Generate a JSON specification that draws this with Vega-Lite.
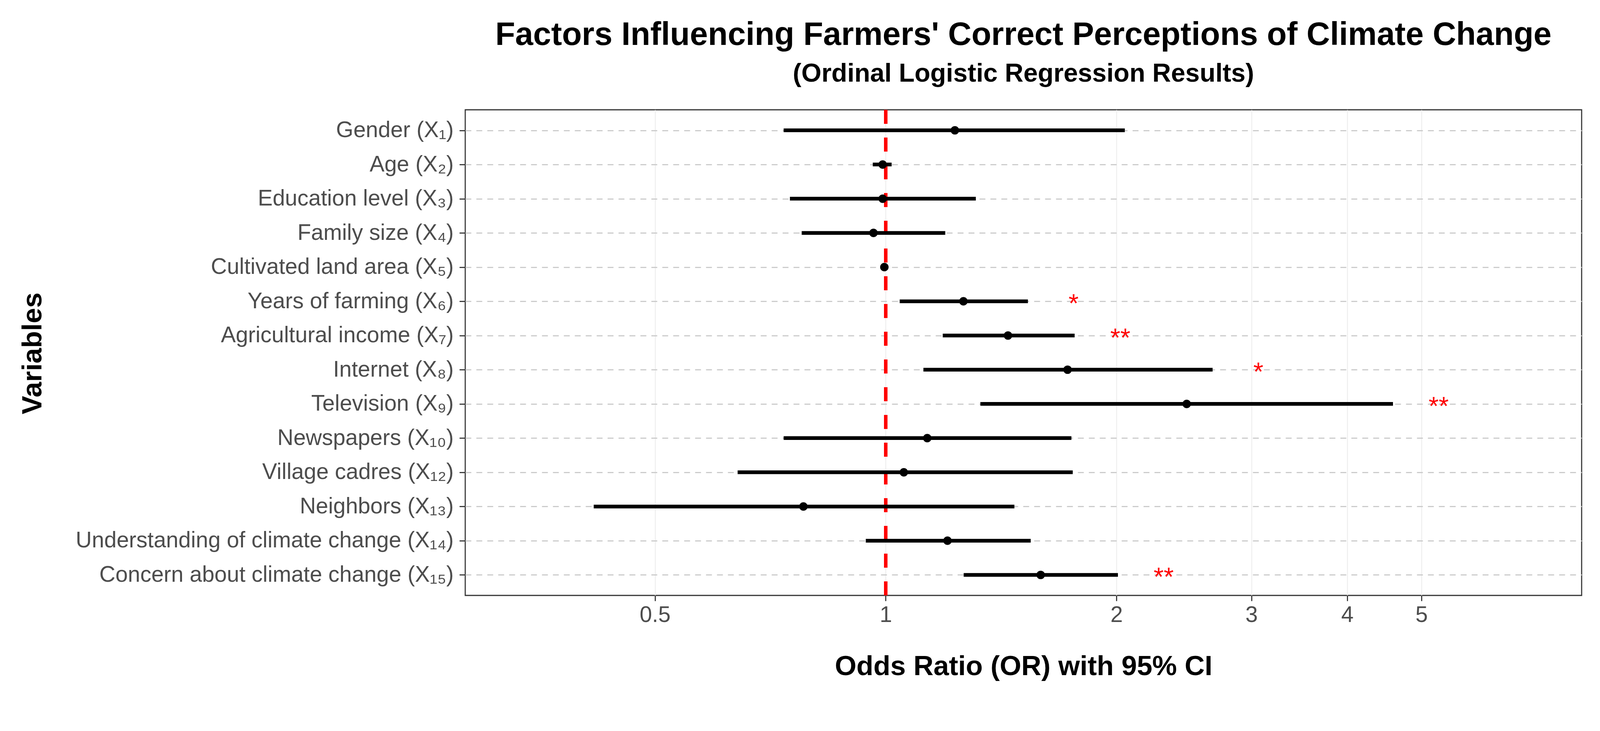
{
  "$schema": "https://vega.github.io/schema/vega-lite/v6.json",
  "width": 2858,
  "height": 1243,
  "autosize": {"type": "none"},
  "padding": {"left": 1191, "top": 281, "right": 277, "bottom": 347},
  "background": "white",
  "title": {
    "text": "Factors Influencing Farmers' Correct Perceptions of Climate Change",
    "subtitle": "(Ordinal Logistic Regression Results)",
    "anchor": "middle",
    "frame": "group",
    "font": "Liberation Sans",
    "fontSize": 83,
    "fontWeight": "bold",
    "color": "black",
    "subtitleFont": "Liberation Sans",
    "subtitleFontSize": 66,
    "subtitleFontWeight": "bold",
    "subtitleColor": "black",
    "subtitlePadding": 25,
    "offset": 55
  },
  "config": {
    "font": "Liberation Sans",
    "view": {"stroke": "#333333", "strokeWidth": 2.8}
  },
  "data": {
    "values": [
      {"variable": "Gender (X₁)", "or": 1.231, "lower": 0.736, "upper": 2.051, "sig": ""},
      {"variable": "Age (X₂)", "or": 0.991, "lower": 0.962, "upper": 1.018, "sig": ""},
      {"variable": "Education level (X₃)", "or": 0.991, "lower": 0.750, "upper": 1.311, "sig": ""},
      {"variable": "Family size (X₄)", "or": 0.964, "lower": 0.777, "upper": 1.196, "sig": ""},
      {"variable": "Cultivated land area (X₅)", "or": 0.996, "lower": 0.990, "upper": 1.003, "sig": ""},
      {"variable": "Years of farming (X₆)", "or": 1.263, "lower": 1.043, "upper": 1.533, "sig": "*"},
      {"variable": "Agricultural income (X₇)", "or": 1.444, "lower": 1.187, "upper": 1.764, "sig": "**"},
      {"variable": "Internet (X₈)", "or": 1.727, "lower": 1.120, "upper": 2.670, "sig": "*"},
      {"variable": "Television (X₉)", "or": 2.470, "lower": 1.329, "upper": 4.590, "sig": "**"},
      {"variable": "Newspapers (X₁₀)", "or": 1.133, "lower": 0.736, "upper": 1.747, "sig": ""},
      {"variable": "Village cadres (X₁₂)", "or": 1.056, "lower": 0.641, "upper": 1.754, "sig": ""},
      {"variable": "Neighbors (X₁₃)", "or": 0.781, "lower": 0.416, "upper": 1.472, "sig": ""},
      {"variable": "Understanding of climate change (X₁₄)", "or": 1.204, "lower": 0.942, "upper": 1.546, "sig": ""},
      {"variable": "Concern about climate change (X₁₅)", "or": 1.593, "lower": 1.264, "upper": 2.009, "sig": "**"}
    ]
  },
  "encoding": {
    "y": {
      "field": "variable",
      "type": "nominal",
      "sort": null,
      "scale": {"type": "point", "padding": 0.6},
      "axis": {
        "title": "Variables",
        "titleFont": "Liberation Sans",
        "titleFontSize": 71,
        "titleFontWeight": "bold",
        "titleColor": "black",
        "titleAngle": -90,
        "titleBaseline": "alphabetic",
        "titleAlign": "center",
        "titleX": -1086,
        "titleY": 623,
        "labelFont": "Liberation Sans",
        "labelFontSize": 57,
        "labelColor": "#4D4D4D",
        "labelPadding": 15,
        "labelLimit": 2000,
        "tickSize": 15,
        "tickWidth": 2.8,
        "tickColor": "#333333",
        "domain": false,
        "grid": true,
        "gridColor": "#CCCCCC",
        "gridWidth": 2.8,
        "gridDash": [15, 13]
      }
    }
  },
  "layer": [
    {
      "mark": {"type": "rule", "color": "#FF0000", "strokeWidth": 8.5, "strokeDash": [36, 35]},
      "encoding": {
        "x": {"datum": 1, "type": "quantitative", "scale": {"type": "log", "domain": [0.2828, 8.09], "nice": false}},
        "y": null
      }
    },
    {
      "mark": {"type": "rule", "color": "black", "strokeWidth": 9.5, "strokeCap": "butt"},
      "encoding": {
        "x": {
          "field": "lower",
          "type": "quantitative",
          "scale": {"type": "log", "domain": [0.2828, 8.09], "nice": false},
          "axis": {
            "title": "Odds Ratio (OR) with 95% CI",
            "titleFont": "Liberation Sans",
            "titleFontSize": 71,
            "titleFontWeight": "bold",
            "titleColor": "black",
            "titleBaseline": "alphabetic",
            "titleY": 203,
            "values": [0.5, 1, 2, 3, 4, 5],
            "format": "~g",
            "labelFont": "Liberation Sans",
            "labelFontSize": 57,
            "labelColor": "#4D4D4D",
            "labelPadding": 8,
            "labelFlush": false,
            "labelOverlap": false,
            "tickSize": 14,
            "tickWidth": 2.8,
            "tickColor": "#333333",
            "domain": false,
            "grid": true,
            "gridColor": "#EBEBEB",
            "gridWidth": 2
          }
        },
        "x2": {"field": "upper"}
      }
    },
    {
      "mark": {"type": "point", "filled": true, "color": "black", "size": 470, "opacity": 1},
      "encoding": {
        "x": {"field": "or", "type": "quantitative"}
      }
    },
    {
      "mark": {"type": "text", "color": "#FF0000", "fontSize": 66, "font": "Liberation Sans", "align": "center", "baseline": "alphabetic", "dx": 117, "dy": 28},
      "encoding": {
        "x": {"field": "upper", "type": "quantitative"},
        "text": {"field": "sig"}
      }
    }
  ]
}
